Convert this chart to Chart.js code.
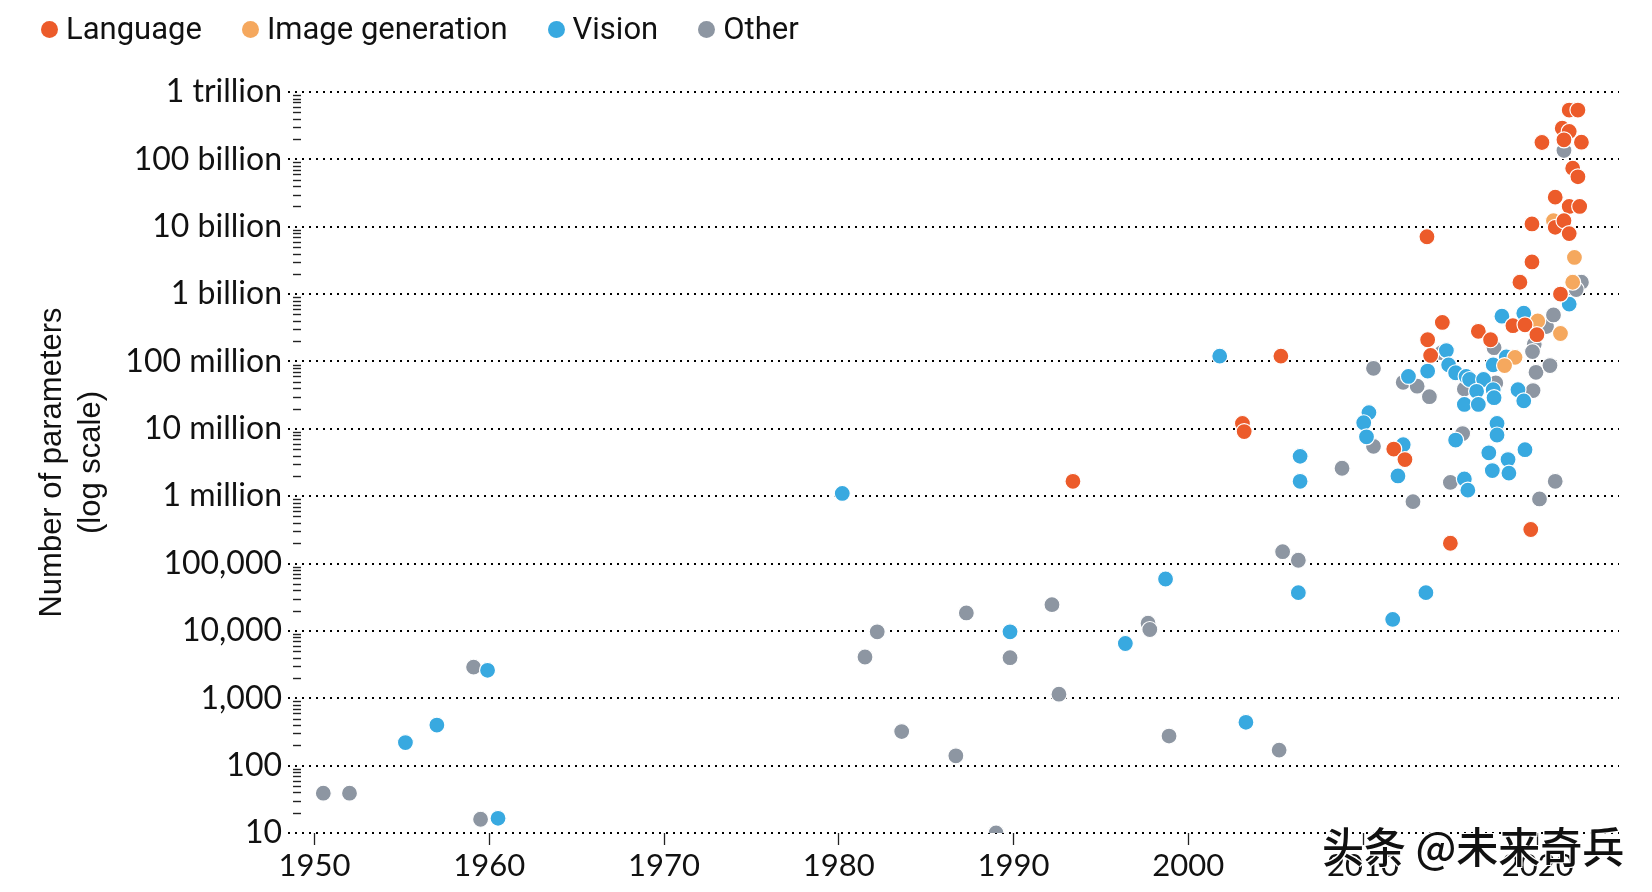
<!DOCTYPE html>
<html><head><meta charset="utf-8">
<script src="https://cdn.jsdelivr.net/npm/chart.js@4.4.1/dist/chart.umd.min.js"></script>
<style>
html,body{margin:0;padding:0;background:#fff;}
#wrap{position:relative;width:1652px;height:892px;overflow:hidden;}
#legend{position:absolute;left:41px;top:11px;display:flex;font-family:Roboto,sans-serif;font-size:31px;line-height:36px;color:#111;}
.item{display:flex;align-items:center;margin-right:40px;white-space:nowrap;}
.dot{width:17px;height:17px;border-radius:50%;margin-right:8px;flex:none;}
#wm{position:absolute;left:1322px;top:822px;font-family:"Noto Sans CJK SC",sans-serif;font-size:42px;line-height:46px;font-weight:500;color:#111;white-space:nowrap;
text-shadow:-1px -1px 0 #fff,1px -1px 0 #fff,-1px 1px 0 #fff,1px 1px 0 #fff;}
</style></head>
<body><div id="wrap"><canvas id="c" width="1652" height="892" style="width:1652px;height:892px"></canvas><div id="legend"></div><div id="wm">头条 @未来奇兵</div></div>
<script>
// ---- data ----
const categories = ['Language', 'Image generation', 'Vision', 'Other'];
const categoryColors = ['#EC5B2A', '#F5A85E', '#38A9E0', '#8D96A2'];

const languageYears = [1993.4, 2003.1, 2003.2, 2005.3, 2011.76, 2012.4, 2013.66, 2013.7, 2013.87, 2014.54, 2016.6, 2017.3, 2018.58, 2019.27, 2019.95, 2018.98, 2019.67, 2019.67, 2020.24, 2019.6, 2015.0, 2021.8, 2022.3, 2021.4, 2021.8, 2021.5, 2022.5, 2022.0, 2022.3, 2021.0, 2021.8, 2022.4, 2021.0, 2021.5, 2021.8, 2021.3];
const languageParams = [1.66e6, 1.2e7, 9.1e6, 1.2e8, 5.0e6, 3.5e6, 7.1e9, 2.1e8, 1.23e8, 3.8e8, 2.8e8, 2.1e8, 3.4e8, 3.5e8, 2.5e8, 1.5e9, 3.0e9, 1.1e10, 1.78e11, 3.2e5, 2.0e5, 5.4e11, 5.4e11, 2.9e11, 2.6e11, 1.95e11, 1.8e11, 7.4e10, 5.5e10, 2.75e10, 2.0e10, 2.0e10, 9.8e9, 1.23e10, 7.9e9, 1.0e9];

const imageGenYears = [2020.0, 2018.7, 2018.1, 2020.9, 2022.1, 2022.0, 2021.3];
const imageGenParams = [4.0e8, 1.15e8, 8.7e7, 1.23e10, 3.5e9, 1.5e9, 2.6e8];

const visionYears = [1955.2, 1957.0, 1959.9, 1960.5, 1980.2, 1989.8, 1996.4, 1998.7, 2001.8, 2003.3, 2006.3, 2006.4, 2006.4, 2010.34, 2010.04, 2010.2, 2012.3, 2012.0, 2011.7, 2013.6, 2012.6, 2013.7, 2014.77, 2014.9, 2015.3, 2015.9, 2016.1, 2016.9, 2016.5, 2017.45, 2017.5, 2015.8, 2016.6, 2017.45, 2018.2, 2017.95, 2019.2, 2018.87, 2019.2, 2015.3, 2015.8, 2016.0, 2017.67, 2017.67, 2017.2, 2017.4, 2018.3, 2018.35, 2019.27, 2021.8];
const visionParams = [220, 400, 2600, 16.5, 1.1e6, 9700, 6500, 59000, 1.2e8, 440, 37000, 3.9e6, 1.66e6, 1.74e7, 1.23e7, 7.6e6, 5.8e6, 2.0e6, 14800, 37000, 6.0e7, 7.2e7, 1.45e8, 8.9e7, 6.8e7, 6.0e7, 5.4e7, 5.4e7, 3.6e7, 3.8e7, 2.9e7, 2.3e7, 2.3e7, 8.9e7, 1.17e8, 4.7e8, 5.2e8, 3.8e7, 2.6e7, 6.8e6, 1.8e6, 1.23e6, 1.2e7, 8.1e6, 4.4e6, 2.4e6, 3.5e6, 2.2e6, 4.9e6, 7.1e8];

const otherYears = [1950.5, 1952.0, 1959.1, 1959.5, 1981.5, 1982.2, 1983.6, 1986.7, 1987.3, 1989.0, 1989.8, 1992.2, 1992.6, 1997.7, 1997.8, 1998.9, 2005.2, 2005.4, 2006.3, 2008.8, 2010.6, 2010.6, 2012.3, 2013.1, 2013.8, 2012.86, 2014.5, 2015.0, 2015.7, 2015.8, 2017.5, 2017.6, 2019.8, 2019.7, 2019.9, 2019.73, 2020.5, 2020.1, 2021.0, 2020.7, 2021.5, 2022.5, 2022.2, 2020.9];
const otherParams = [39, 39, 2900, 16, 4100, 9700, 320, 140, 18500, 10, 4000, 24500, 1150, 13000, 10500, 275, 170, 150000, 112000, 2.6e6, 7.9e7, 5.5e6, 4.9e7, 4.3e7, 3.0e7, 8.3e5, 1.35e8, 1.6e6, 8.5e6, 3.9e7, 1.6e8, 4.8e7, 1.8e8, 1.4e8, 6.9e7, 3.7e7, 3.3e8, 9.1e5, 1.66e6, 8.7e7, 1.35e11, 1.5e9, 1.17e9, 4.9e8];

const yTickValues = [1e1, 1e2, 1e3, 1e4, 1e5, 1e6, 1e7, 1e8, 1e9, 1e10, 1e11, 1e12];
const yTickLabels = ['10', '100', '1,000', '10,000', '100,000', '1 million', '10 million', '100 million', '1 billion', '10 billion', '100 billion', '1 trillion'];
const xTickYears = [1950, 1960, 1970, 1980, 1990, 2000, 2010, 2020];
const yTitleLines = ['Number of parameters', '(log scale)'];

// ---- layout constants ----
const PLOT_LEFT = 288, PAD_LEFT = 20, PLOT_TOP = 92, PLOT_RIGHT = 1619, PLOT_BOTTOM = 833, W = 1652, H = 892;

function pts(xs, ys) { return xs.map((x, i) => ({ x: x, y: ys[i] })); }
const seriesData = [pts(languageYears, languageParams), pts(imageGenYears, imageGenParams), pts(visionYears, visionParams), pts(otherYears, otherParams)];

// legend (HTML)
const lg = document.getElementById('legend');
categories.forEach((c, i) => {
  const it = document.createElement('div'); it.className = 'item';
  const d = document.createElement('span'); d.className = 'dot'; d.style.background = categoryColors[i];
  const t = document.createElement('span'); t.textContent = c;
  it.appendChild(d); it.appendChild(t); lg.appendChild(it);
});

const minorTicks = {
  id: 'minorTicks',
  beforeDatasetsDraw(chart) {
    const ys = chart.scales.y, ctx = chart.ctx, left = chart.chartArea.left;
    ctx.save(); ctx.strokeStyle = '#222'; ctx.lineWidth = 1.4;
    for (let e = 1; e < 12; e++) {
      for (let k = 2; k <= 9; k++) {
        const py = Math.round(ys.getPixelForValue(k * Math.pow(10, e))) + 0.5;
        ctx.beginPath(); ctx.moveTo(left + 5, py); ctx.lineTo(left + 13, py); ctx.stroke();
      }
    }
    ctx.restore();
  }
};

new Chart(document.getElementById('c'), {
  type: 'scatter',
  data: {
    datasets: categories.map((c, i) => ({
      label: c, data: seriesData[i],
      backgroundColor: categoryColors[i], borderColor: '#ffffff', borderWidth: 1.2,
      pointRadius: 8, pointHoverRadius: 8
    }))
  },
  options: {
    responsive: false, animation: false, devicePixelRatio: 1,
    layout: { padding: { top: PLOT_TOP, left: PAD_LEFT, right: W - PLOT_RIGHT, bottom: 0 } },
    plugins: { legend: { display: false }, tooltip: { enabled: false } },
    scales: {
      x: {
        type: 'linear', min: 1948.48, max: 2024.65,
        afterBuildTicks: s => { s.ticks = xTickYears.map(v => ({ value: v })); },
        afterFit: s => { s.height = H - PLOT_BOTTOM; },
        ticks: { callback: v => String(v), color: '#111', font: { family: 'Lato', size: 31 }, padding: 2, maxRotation: 0, autoSkip: false },
        grid: { drawOnChartArea: false, drawTicks: true, tickLength: 12, tickColor: '#222', tickWidth: 1.3 },
        border: { display: false }
      },
      y: {
        type: 'logarithmic', min: 10, max: 1e12,
        afterBuildTicks: s => { s.ticks = yTickValues.map(v => ({ value: v })); },
        afterFit: s => { s.width = PLOT_LEFT - PAD_LEFT; },
        ticks: { callback: v => { const i = yTickValues.indexOf(v); return i >= 0 ? yTickLabels[i] : ''; }, color: '#111', font: { family: 'Lato', size: 32 }, padding: 6, autoSkip: false },
        grid: { color: '#000', lineWidth: 2, drawTicks: false },
        border: { display: false, dash: [2, 5] },
        title: { display: true, text: yTitleLines, color: '#111', font: { family: 'Liberation Sans', size: 31, lineHeight: 1.25 }, padding: { top: 13, bottom: 0 } }
      }
    }
  },
  plugins: [minorTicks]
});
</script>
</body></html>
